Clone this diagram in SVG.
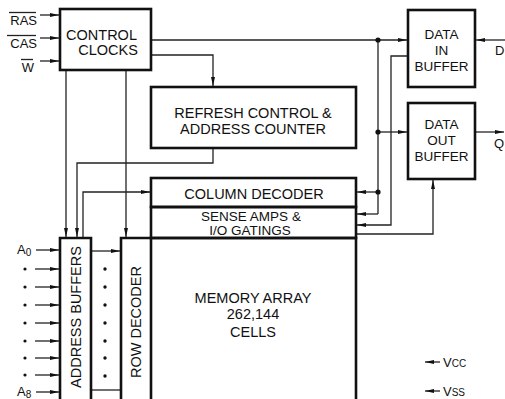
<svg xmlns="http://www.w3.org/2000/svg" width="505" height="399" viewBox="0 0 505 399">
<style>
.box{fill:none;stroke:#111;stroke-width:2.6}
.ln{fill:none;stroke:#222;stroke-width:1.3}
.arr{marker-end:url(#ah)}
.t{font-family:"Liberation Sans",Arial,sans-serif;font-size:14.5px;fill:#111;text-anchor:middle}
.tc{font-family:"Liberation Sans",Arial,sans-serif;font-size:13.5px;fill:#111;text-anchor:middle}
.s{font-family:"Liberation Sans",Arial,sans-serif;font-size:13px;fill:#111}
.dot{fill:#111}
</style>
<defs>
<marker id="ah" markerUnits="userSpaceOnUse" markerWidth="9" markerHeight="6" refX="9" refY="3" orient="auto"><path d="M0,1 L9,3 L0,5 z" fill="#111"/></marker>
</defs>
<rect width="505" height="399" fill="#fff"/>

<g id="connectors">
<line class="ln arr" x1="40" y1="15" x2="59" y2="15"/>
<line class="ln arr" x1="40" y1="38" x2="59" y2="38"/>
<line class="ln arr" x1="40" y1="61" x2="59" y2="61"/>
<line class="ln arr" x1="151" y1="40" x2="407" y2="40"/>
<polyline class="ln arr" points="151,55 213,55 213,86"/>
<line class="ln arr" x1="66" y1="70" x2="66" y2="237"/>
<line class="ln arr" x1="126" y1="70" x2="126" y2="237"/>
<polyline class="ln arr" points="213,148 213,163 77,163 77,237"/>
<polyline class="ln arr" points="83,238 83,192 150,192"/>
<line class="ln" x1="378" y1="40" x2="378" y2="214"/>
<line class="ln arr" x1="378" y1="132" x2="407" y2="132"/>
<line class="ln arr" x1="378" y1="192" x2="357" y2="192"/>
<line class="ln arr" x1="378" y1="214" x2="357" y2="214"/>
<circle class="dot" cx="378" cy="40" r="2.6"/>
<circle class="dot" cx="378" cy="132" r="2.6"/>
<circle class="dot" cx="378" cy="192" r="2.6"/>
<polyline class="ln arr" points="408,56 391,56 391,225 357,225"/>
<polyline class="ln arr" points="356,234 433,234 433,180"/>
<line class="ln arr" x1="505" y1="40" x2="476" y2="40"/>
<line class="ln arr" x1="475" y1="132" x2="504" y2="132"/>
<line class="ln arr" x1="36" y1="250" x2="59" y2="250"/>
<line class="ln arr" x1="35" y1="269" x2="59" y2="269"/>
<line class="ln arr" x1="35" y1="287" x2="59" y2="287"/>
<line class="ln arr" x1="35" y1="305" x2="59" y2="305"/>
<line class="ln arr" x1="35" y1="323" x2="59" y2="323"/>
<line class="ln arr" x1="35" y1="341" x2="59" y2="341"/>
<line class="ln arr" x1="35" y1="358" x2="59" y2="358"/>
<line class="ln arr" x1="35" y1="375" x2="59" y2="375"/>
<line class="ln arr" x1="36" y1="392" x2="59" y2="392"/>
<line class="ln arr" x1="91" y1="251" x2="120" y2="251"/>
<line class="ln" x1="91" y1="390" x2="121" y2="390"/>
<line class="ln arr" x1="440" y1="362" x2="425" y2="362"/>
<line class="ln arr" x1="440" y1="391" x2="425" y2="391"/>
</g>

<g id="dots">
<circle class="dot" cx="25" cy="269" r="1.6"/>
<circle class="dot" cx="25" cy="287" r="1.6"/>
<circle class="dot" cx="25" cy="305" r="1.6"/>
<circle class="dot" cx="25" cy="323" r="1.6"/>
<circle class="dot" cx="25" cy="341" r="1.6"/>
<circle class="dot" cx="25" cy="358" r="1.6"/>
<circle class="dot" cx="25" cy="375" r="1.6"/>
<circle class="dot" cx="105" cy="269" r="1.7"/>
<circle class="dot" cx="105" cy="287" r="1.7"/>
<circle class="dot" cx="105" cy="305" r="1.7"/>
<circle class="dot" cx="105" cy="323" r="1.7"/>
<circle class="dot" cx="105" cy="341" r="1.7"/>
<circle class="dot" cx="105" cy="358" r="1.7"/>
<circle class="dot" cx="105" cy="376" r="1.7"/>
</g>

<g id="signals">
<text class="s" x="37" y="25" text-anchor="end">RAS</text>
<line class="ln" x1="9" y1="12.5" x2="36" y2="12.5"/>
<text class="s" x="37" y="48" text-anchor="end">CAS</text>
<line class="ln" x1="7" y1="35.5" x2="36" y2="35.5"/>
<text class="s" x="34" y="72" text-anchor="end">W</text>
<line class="ln" x1="21" y1="59.5" x2="33" y2="59.5"/>
<text class="s" x="17" y="254">A<tspan font-size="10" dy="2">0</tspan></text>
<text class="s" x="17" y="396">A<tspan font-size="10" dy="2">8</tspan></text>
<text class="s" x="495" y="55">D</text>
<text class="s" x="494" y="148">Q</text>
<text class="s" x="443" y="367">V<tspan font-size="10">CC</tspan></text>
<text class="s" x="443" y="396">V<tspan font-size="10">SS</tspan></text>
</g>

<g id="control-clocks">
<rect class="box" x="60" y="9" width="91" height="61"/>
<text class="t" x="101.5" y="40">CONTROL</text>
<text class="t" x="108" y="55">CLOCKS</text>
</g>

<g id="refresh">
<rect class="box" x="151" y="87" width="205" height="61"/>
<text class="t" x="253" y="118">REFRESH CONTROL &amp;</text>
<text class="t" x="253" y="134">ADDRESS COUNTER</text>
</g>

<g id="data-in">
<rect class="box" x="408" y="10" width="67" height="77"/>
<text class="tc" x="441.5" y="39">DATA</text>
<text class="tc" x="441.5" y="55">IN</text>
<text class="tc" x="441.5" y="71">BUFFER</text>
</g>

<g id="data-out">
<rect class="box" x="408" y="103" width="67" height="76"/>
<text class="tc" x="441.5" y="129">DATA</text>
<text class="tc" x="441.5" y="145">OUT</text>
<text class="tc" x="441.5" y="161">BUFFER</text>
</g>

<g id="column-decoder">
<rect class="box" x="151" y="178" width="205" height="29"/>
<text class="t" x="254" y="199">COLUMN DECODER</text>
</g>

<g id="sense-amps">
<rect class="box" x="151" y="207" width="205" height="31"/>
<text class="tc" x="251" y="221">SENSE AMPS &amp;</text>
<text class="tc" x="250" y="235">I/O GATINGS</text>
</g>

<g id="memory-array">
<path class="box" d="M151,402 L151,238 L356,238 L356,402"/>
<text class="t" x="253" y="303">MEMORY ARRAY</text>
<text class="t" x="253" y="319">262,144</text>
<text class="t" x="253" y="337">CELLS</text>
</g>

<g id="address-buffers">
<path class="box" d="M60,402 L60,238 L91,238 L91,402"/>
<text class="t" transform="translate(81,317) rotate(-90)">ADDRESS BUFFERS</text>
</g>

<g id="row-decoder">
<path class="box" d="M121,402 L121,238 L151,238"/>
<text class="t" transform="translate(141,322) rotate(-90)">ROW DECODER</text>
</g>
</svg>
